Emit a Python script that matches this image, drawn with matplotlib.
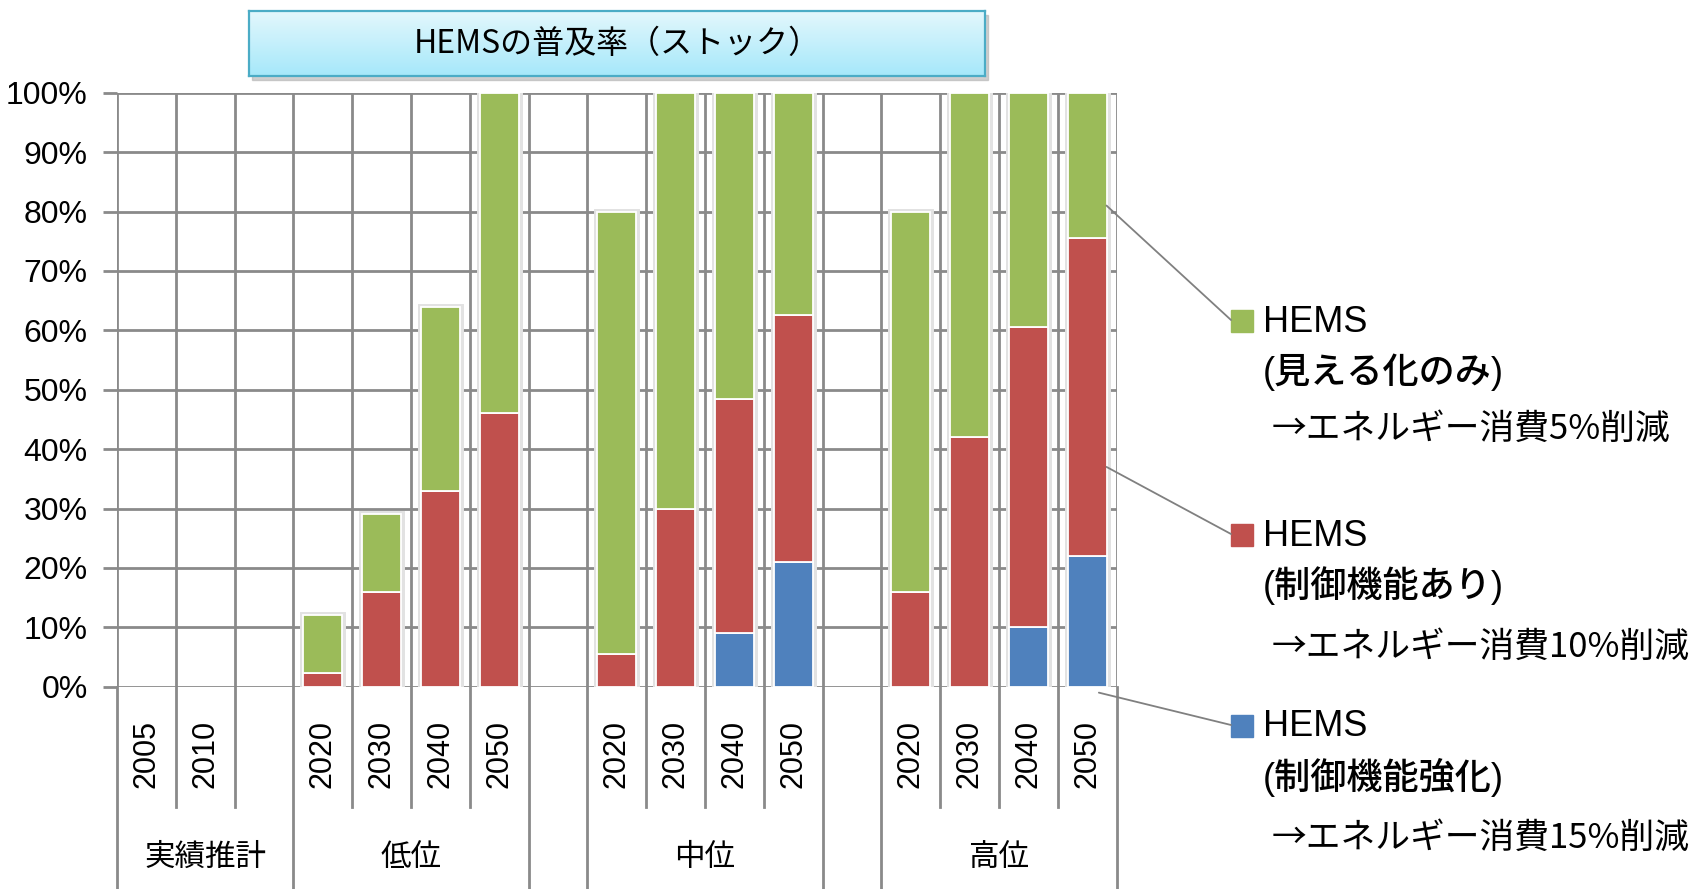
import numpy as np
import matplotlib
matplotlib.use("Agg")
import matplotlib.pyplot as plt
from matplotlib.patches import Rectangle, ConnectionPatch

# categories: year slots with empty spacer slots between scenarios
years = ["2005", "2010", "", "2020", "2030", "2040", "2050", "",
         "2020", "2030", "2040", "2050", "", "2020", "2030", "2040", "2050"]
scenarios = ["実績推計", "低位", "", "中位", "", "高位"]
scenario_sizes = [3, 4, 1, 4, 1, 4]

# diffusion rate (%) per category, stacked bottom -> top
hems_strong = [0, 0, 0, 0, 0, 0, 0, 0, 0, 0, 9, 21, 0, 0, 0, 10, 22]
hems_control = [0, 0, 0, 2.3, 16, 33, 46, 0, 5.5, 30, 39.5, 41.5, 0, 16, 42, 50.5, 53.5]
hems_visual = [0, 0, 0, 9.7, 13, 31, 54, 0, 74.5, 70, 51.5, 37.5, 0, 64, 58, 39.5, 24.5]

legend_heads = ["HEMS", "HEMS", "HEMS"]
legend_kinds = ["(見える化のみ)", "(制御機能あり)", "(制御機能強化)"]
legend_notes = ["→エネルギー消費5%削減", "→エネルギー消費10%削減", "→エネルギー消費15%削減"]

title = "HEMSの普及率（ストック）"

GREEN, RED, BLUE = "#9BBB59", "#C0504D", "#4F81BD"
GRID = "#8A8A8A"
W, H = 1702, 889


def fx(px):
    return px / W


def fy(py):
    return 1 - py / H


fig = plt.figure(figsize=(W / 100, H / 100), dpi=100)
ax = fig.add_axes([fx(117), fy(686.7), fx(1116.5) - fx(117), fy(92.7) - fy(686.7)])

x = np.arange(len(years))
strong = np.array(hems_strong, float)
control = np.array(hems_control, float)
visual = np.array(hems_visual, float)
total = strong + control + visual
has = total > 0
bw = 0.66

# soft shadow behind each stacked column
ax.bar(x[has], total[has], bw, color="#d4d4d4", edgecolor="#e2e2e2", lw=5, zorder=2)
ax.bar(x[has], strong[has], bw, color=BLUE, edgecolor="white", lw=1.3, zorder=3)
ax.bar(x[has], control[has], bw, bottom=strong[has], color=RED, edgecolor="white", lw=1.3, zorder=3)
ax.bar(x[has], visual[has], bw, bottom=(strong + control)[has], color=GREEN,
       edgecolor="white", lw=1.3, zorder=3)

ax.set_xlim(-0.5, len(years) - 0.5)
ax.set_ylim(0, 100)
ax.set_yticks(np.arange(0, 101, 10))
ax.set_yticklabels([f"{v}%" for v in range(0, 101, 10)], fontsize=23,
                   family=["Liberation Sans", "DejaVu Sans"])
ax.set_xticks(x)
ax.set_xticklabels(years, rotation=90, fontsize=22, family=["Liberation Sans", "DejaVu Sans"])
ax.set_xticks(np.arange(-0.5, len(years)), minor=True)
ax.tick_params(axis="x", which="both", length=0, pad=24)
ax.tick_params(axis="y", length=10, width=2, color=GRID, pad=11)
ax.grid(axis="y", color=GRID, lw=2)
ax.grid(axis="x", which="minor", color=GRID, lw=2)
ax.set_axisbelow(True)
for s in ax.spines.values():
    s.set_visible(False)

# category dividers below the axis
bounds = np.cumsum([0] + scenario_sizes)
xt = ax.get_xaxis_transform()
for k in range(len(years) + 1):
    end = -0.345 if k in bounds else -0.2025
    ax.plot([k - 0.5, k - 0.5], [0, end], color=GRID, lw=2, transform=xt, clip_on=False)

for name, a, b in zip(scenarios, bounds[:-1], bounds[1:]):
    if name:
        ax.text((a + b - 1) / 2, -0.288, name, transform=xt, ha="center", va="center",
                fontsize=22, family=["Noto Sans CJK JP"])

# title box with gradient fill and a drop shadow
tx0, tx1, ty0, ty1 = 249, 985, 11, 76
shadow = Rectangle((fx(tx0 + 3), fy(ty1 + 4)), fx(tx1) - fx(tx0), fy(ty0) - fy(ty1),
                   transform=fig.transFigure, color="#b0b0b0", alpha=0.6, zorder=-5)
fig.add_artist(shadow)
tax = fig.add_axes([fx(tx0), fy(ty1), fx(tx1) - fx(tx0), fy(ty0) - fy(ty1)], zorder=5)
grad = np.linspace(0, 1, 64)[:, None, None]
top = np.array([0.89, 0.97, 0.99])
bot = np.array([0.65, 0.91, 0.98])
tax.imshow(top + (bot - top) * grad, aspect="auto", extent=[0, 1, 0, 1], interpolation="bilinear")
tax.set_xticks([])
tax.set_yticks([])
for s in tax.spines.values():
    s.set_color("#4BACC6")
    s.set_linewidth(1.6)
tax.text(0.5, 0.5, title, ha="center", va="center", fontsize=23,
         family=["Liberation Sans Narrow", "Noto Sans CJK JP"], transform=tax.transAxes)

# legend with leader lines to the last column
colors = [GREEN, RED, BLUE]
square_y = [321, 535, 726]
leader_from = [(16.33, 81), (16.33, 37), (16.2, -1)]
line_y = [(322, 372, 429), (536, 586, 647), (727, 777, 838)]
for c, sy, src, ly, head, kind, note in zip(colors, square_y, leader_from, line_y,
                                             legend_heads, legend_kinds, legend_notes):
    fig.add_artist(Rectangle((fx(1231), fy(sy + 11)), fx(22), 22 / H,
                             transform=fig.transFigure, color=c))
    con = ConnectionPatch(xyA=src, coordsA=ax.transData, xyB=(fx(1231), fy(sy - 1)),
                          coordsB=fig.transFigure, color="#808080", lw=1.3)
    fig.add_artist(con)
    fig.text(fx(1263), fy(ly[0]), head, ha="left", va="center", fontsize=26,
             family=["Liberation Sans", "Noto Sans CJK JP"])
    fig.text(fx(1263), fy(ly[1]), kind, ha="left", va="center", fontsize=26,
             family=["Liberation Sans", "Noto Sans CJK JP"], weight="medium")
    fig.text(fx(1272), fy(ly[2]), note, ha="left", va="center", fontsize=25,
             family=["Noto Sans CJK JP"])

fig.savefig("out.png", dpi=100)
